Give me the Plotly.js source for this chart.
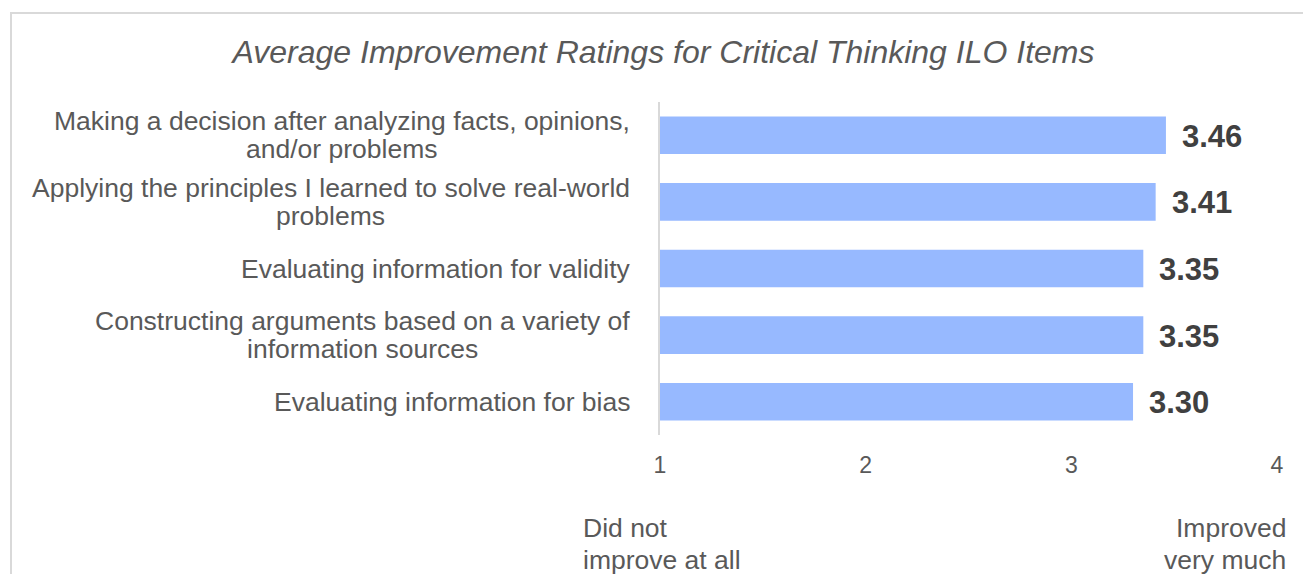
<!DOCTYPE html>
<html>
<head>
<meta charset="utf-8">
<script src="https://cdn.plot.ly/plotly-3.0.1.min.js"></script>
<style>
  html, body { margin: 0; padding: 0; background: #fff; overflow: hidden; }
  #wrap { position: relative; width: 1303px; height: 574px; }
  #chart { position: absolute; left: 0; top: 0; width: 1303px; height: 574px; }
  #frame { position: absolute; left: 10px; top: 12px; width: 1310px; height: 600px;
           border-left: 2px solid #d9d9d9; border-top: 2px solid #d9d9d9; pointer-events: none; }
</style>
</head>
<body>
<div id="wrap">
  <div id="chart"></div>
  <div id="frame"></div>
</div>
<script>
// ---- data ----
const categories = [
  "Making a decision after analyzing facts, opinions,<br>and/or problems",
  "Applying the principles I learned to solve real-world<br>problems",
  "Evaluating information for validity",
  "Constructing arguments based on a variety of<br>information sources",
  "Evaluating information for bias"
];
const ratings = [3.46, 3.41, 3.35, 3.35, 3.30];
const ratingLabels = ["3.46", "3.41", "3.35", "3.35", "3.30"];
const tickValues = [1, 2, 3, 4];
const tickLabels = ["1", "2", "3", "4"];
const scaleLow = "Did not<br>improve at all";
const scaleHigh = "Improved<br>very much";
const chartTitle = "Average Improvement Ratings for Critical Thinking ILO Items";

// ---- styling ----
const FONT = '"Liberation Sans", Arial, sans-serif';
const TEXT = '#595959';
const LABEL_SIZE = 26.5;
const LINE_H = 28;
const SCALE_LINE_H = 32;

const canvas = document.createElement('canvas');
const ctx = canvas.getContext('2d');
ctx.font = LABEL_SIZE + 'px "Liberation Sans"';

const annotations = [];

// category labels: each line placed separately, lines centred on each other, block right-aligned
categories.forEach((cat, i) => {
  const lines = cat.split('<br>');
  const widths = lines.map(l => ctx.measureText(l).width);
  const maxW = Math.max(...widths);
  const n = lines.length;
  lines.forEach((line, j) => {
    annotations.push({
      xref: 'paper', yref: 'y', x: 0, y: cat,
      xanchor: 'center', yanchor: 'middle',
      xshift: -30 - maxW / 2,
      yshift: ((n - 1) / 2 - j) * LINE_H,
      text: line, showarrow: false,
      font: {family: FONT, size: LABEL_SIZE, color: TEXT}
    });
  });
});

// value labels
categories.forEach((cat, i) => {
  annotations.push({
    xref: 'x', yref: 'y', x: ratings[i], y: cat,
    xanchor: 'left', yanchor: 'middle', xshift: 14, yshift: -1,
    text: '<b>' + ratingLabels[i] + '</b>', showarrow: false,
    font: {family: FONT, size: 31, color: '#404040'}
  });
});

// scale end descriptions, one annotation per line
function addScaleText(txt, x, anchor) {
  const lines = txt.split('<br>');
  const n = lines.length;
  lines.forEach((line, j) => {
    annotations.push({
      xref: 'paper', yref: 'paper', x: x, y: -0.327,
      xanchor: anchor, yanchor: 'middle',
      yshift: ((n - 1) / 2 - j) * SCALE_LINE_H,
      text: line, showarrow: false,
      font: {family: FONT, size: LABEL_SIZE, color: TEXT}
    });
  });
}
addScaleText(scaleLow, -0.128, 'left');
addScaleText(scaleHigh, 1.018, 'right');

const trace = {
  type: 'bar', orientation: 'h',
  x: ratings, y: categories,
  marker: {color: '#97B9FF'},
  hoverinfo: 'none'
};

const layout = {
  width: 1303, height: 574,
  margin: {l: 660, r: 26, t: 102, b: 139, pad: 0},
  paper_bgcolor: 'rgba(0,0,0,0)', plot_bgcolor: 'rgba(0,0,0,0)',
  showlegend: false,
  bargap: 0.435,
  title: {
    text: '<i>' + chartTitle + '</i>',
    xref: 'container', yref: 'container',
    x: 663.5 / 1303, y: 1 - 52 / 574, xanchor: 'center', yanchor: 'middle',
    font: {family: FONT, size: 32, color: TEXT}
  },
  xaxis: {
    range: [1, 4], tickvals: tickValues, ticktext: tickLabels,
    showgrid: false, zeroline: false, showline: false, ticks: '',
    ticklabelstandoff: 14,
    tickfont: {family: FONT, size: 23, color: TEXT},
    fixedrange: true
  },
  yaxis: {
    autorange: 'reversed', showticklabels: false, ticks: '',
    showgrid: false, zeroline: false,
    showline: true, linecolor: '#d9d9d9', linewidth: 2,
    fixedrange: true
  },
  annotations: annotations
};

Plotly.newPlot('chart', [trace], layout, {displayModeBar: false, staticPlot: true});
</script>
</body>
</html>
